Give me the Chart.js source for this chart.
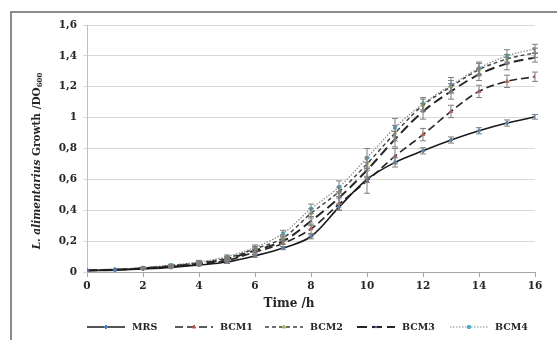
<!DOCTYPE html>
<html>
<head>
<meta charset="utf-8">
<script src="https://cdn.jsdelivr.net/npm/chart.js@4.4.1/dist/chart.umd.min.js"></script>
<style>
  html, body { margin: 0; padding: 0; background: #fff; }
  #wrap { width: 557px; height: 340px; position: relative; }
</style>
</head>
<body>
<div id="wrap"><canvas id="growthChart" width="557" height="340"></canvas></div>
<script>
// time points (h)
const hours = [0, 1, 2, 3, 4, 5, 6, 7, 8, 9, 10, 11, 12, 13, 14, 15, 16];
const xTicks = [0, 2, 4, 6, 8, 10, 12, 14, 16];
const yTicks = [0, 0.2, 0.4, 0.6, 0.8, 1, 1.2, 1.4, 1.6];

const seriesNames = ["MRS", "BCM1", "BCM2", "BCM3", "BCM4"];

// OD600 means
const mrs  = [0.01, 0.012, 0.02, 0.03, 0.045, 0.065, 0.105, 0.155, 0.23, 0.42, 0.60, 0.71, 0.785, 0.855, 0.915, 0.965, 1.005];
const bcm1 = [0.01, 0.014, 0.022, 0.035, 0.05, 0.075, 0.13, 0.185, 0.28, 0.44, 0.59, 0.75, 0.89, 1.04, 1.17, 1.235, 1.265];
const bcm2 = [0.01, 0.016, 0.025, 0.04, 0.06, 0.09, 0.15, 0.22, 0.38, 0.52, 0.70, 0.90, 1.08, 1.20, 1.31, 1.38, 1.42];
const bcm3 = [0.01, 0.015, 0.024, 0.038, 0.055, 0.085, 0.14, 0.20, 0.33, 0.48, 0.66, 0.86, 1.04, 1.17, 1.28, 1.35, 1.39];
const bcm4 = [0.01, 0.017, 0.028, 0.045, 0.065, 0.10, 0.16, 0.25, 0.41, 0.55, 0.74, 0.935, 1.09, 1.21, 1.32, 1.40, 1.445];

// standard deviations (error bars)
const mrsErr  = [0, 0, 0.005, 0.005, 0.005, 0.01, 0.01, 0.01, 0.015, 0.02, 0.02, 0.03, 0.02, 0.02, 0.02, 0.02, 0.015];
const bcm1Err = [0, 0, 0.005, 0.005, 0.01, 0.01, 0.015, 0.02, 0.03, 0.04, 0.08, 0.05, 0.04, 0.04, 0.04, 0.04, 0.03];
const bcm2Err = [0, 0, 0.005, 0.005, 0.01, 0.01, 0.015, 0.02, 0.03, 0.03, 0.04, 0.05, 0.04, 0.04, 0.04, 0.03, 0.03];
const bcm3Err = [0, 0, 0.005, 0.005, 0.01, 0.01, 0.015, 0.02, 0.03, 0.04, 0.05, 0.05, 0.05, 0.05, 0.04, 0.04, 0.03];
const bcm4Err = [0, 0, 0.005, 0.005, 0.01, 0.01, 0.015, 0.02, 0.03, 0.04, 0.06, 0.06, 0.04, 0.05, 0.04, 0.04, 0.03];

const SERIF = "'DejaVu Serif', 'Liberation Serif', serif";

const styles = [
  { line: "#1a1a1a", dash: [],         width: 1.6, marker: "#4a7ebb", shape: "rectRot" },
  { line: "#262626", dash: [8, 4],     width: 1.6, marker: "#c0504d", shape: "triangle" },
  { line: "#404040", dash: [4, 3],     width: 1.4, marker: "#9bbb59", shape: "triangle" },
  { line: "#262626", dash: [10, 5],    width: 2,   marker: "#8064a2", shape: "crossRot" },
  { line: "#8a8a8a", dash: [1.5, 1.5], width: 1.2, marker: "#4bacc6", shape: "rect" }
];

const values = [mrs, bcm1, bcm2, bcm3, bcm4];
const errors = [mrsErr, bcm1Err, bcm2Err, bcm3Err, bcm4Err];

const datasets = seriesNames.map((name, i) => ({
  label: name,
  data: hours.map((h, j) => ({ x: h, y: values[i][j] })),
  errs: errors[i],
  borderColor: styles[i].line,
  borderDash: styles[i].dash,
  borderWidth: styles[i].width,
  backgroundColor: styles[i].marker,
  pointBackgroundColor: styles[i].marker,
  pointBorderColor: styles[i].marker,
  pointStyle: styles[i].shape,
  pointRadius: 2,
  pointBorderWidth: 1,
  tension: 0.35,
  fill: false
}));

// frame, error bars, titles, legend
const decorations = {
  id: "decorations",
  beforeDraw(chart) {
    const ctx = chart.ctx;
    ctx.save();
    ctx.fillStyle = "#fff";
    ctx.fillRect(0, 0, chart.width, chart.height);
    ctx.strokeStyle = "#8c8c8c";
    ctx.lineWidth = 2;
    ctx.beginPath();
    ctx.moveTo(11, chart.height);
    ctx.lineTo(11, 12);
    ctx.lineTo(chart.width, 12);
    ctx.stroke();
    ctx.restore();
  },
  afterDatasetsDraw(chart) {
    const ctx = chart.ctx;
    const xs = chart.scales.x, ys = chart.scales.y;
    ctx.save();
    ctx.strokeStyle = "#7f7f7f";
    ctx.lineWidth = 1;
    chart.data.datasets.forEach(ds => {
      ds.data.forEach((p, j) => {
        const e = ds.errs[j];
        if (!e) return;
        const x = xs.getPixelForValue(p.x);
        const y1 = ys.getPixelForValue(p.y + e);
        const y2 = ys.getPixelForValue(p.y - e);
        ctx.beginPath();
        ctx.moveTo(x, y1); ctx.lineTo(x, y2);
        ctx.moveTo(x - 3, y1); ctx.lineTo(x + 3, y1);
        ctx.moveTo(x - 3, y2); ctx.lineTo(x + 3, y2);
        ctx.stroke();
      });
    });
    ctx.restore();
  },
  afterDraw(chart) {
    const ctx = chart.ctx;
    ctx.save();
    ctx.fillStyle = "#262626";
    ctx.textBaseline = "middle";

    // x title
    ctx.font = "bold 12px " + SERIF;
    ctx.textAlign = "center";
    ctx.fillText("Time /h", 289, 304);

    // y title (rotated, italic species name + subscript)
    ctx.translate(37, 161);
    ctx.rotate(-Math.PI / 2);
    const parts = [
      { t: "L. alimentarius", f: "italic bold 10.5px " + SERIF, dy: 0 },
      { t: " Growth /DO", f: "bold 10.5px " + SERIF, dy: 0 },
      { t: "600", f: "bold 7px " + SERIF, dy: 3 }
    ];
    let total = 0;
    parts.forEach(p => { ctx.font = p.f; p.w = ctx.measureText(p.t).width; total += p.w; });
    let px = -total / 2;
    ctx.textAlign = "left";
    parts.forEach(p => { ctx.font = p.f; ctx.fillText(p.t, px, p.dy); px += p.w; });
    ctx.setTransform(1, 0, 0, 1, 0, 0);

    // legend
    const legendX = [87, 175, 265, 357, 450];
    const ly = 327;
    chart.data.datasets.forEach((ds, i) => {
      const x0 = legendX[i], len = 38;
      ctx.strokeStyle = ds.borderColor;
      ctx.lineWidth = ds.borderWidth;
      ctx.setLineDash(ds.borderDash);
      ctx.beginPath();
      ctx.moveTo(x0, ly); ctx.lineTo(x0 + len, ly);
      ctx.stroke();
      ctx.setLineDash([]);
      ctx.fillStyle = ds.pointBackgroundColor;
      ctx.strokeStyle = ds.pointBorderColor;
      ctx.lineWidth = 1;
      Chart.helpers.drawPoint(ctx, {
        pointStyle: ds.pointStyle, radius: 2, borderWidth: 1, rotation: 0
      }, x0 + len / 2, ly);
      ctx.fillStyle = "#262626";
      ctx.font = "bold 9.5px " + SERIF;
      ctx.textAlign = "left";
      ctx.fillText(ds.label, x0 + len + 7, ly + 1);
    });
    ctx.restore();
  }
};

new Chart(document.getElementById("growthChart"), {
  type: "line",
  data: { datasets },
  plugins: [decorations],
  options: {
    responsive: false,
    animation: false,
    layout: { padding: { left: 0, top: 25, right: 22, bottom: 0 } },
    plugins: {
      legend: { display: false },
      tooltip: { enabled: false }
    },
    scales: {
      x: {
        type: "linear",
        min: 0, max: 16,
        afterFit: s => { s.height = 68; },
        afterBuildTicks: s => { s.ticks = xTicks.map(v => ({ value: v })); },
        grid: { drawOnChartArea: false, color: "#a6a6a6", tickLength: 5 },
        border: { color: "#a6a6a6" },
        ticks: {
          padding: 3,
          color: "#262626",
          font: { family: SERIF, size: 10.5, weight: "bold" }
        }
      },
      y: {
        min: 0, max: 1.6,
        afterFit: s => { s.width = 87; },
        afterBuildTicks: s => { s.ticks = yTicks.map(v => ({ value: v })); },
        grid: { color: "#d9d9d9", tickLength: 4, lineWidth: 1 },
        border: { color: "#bfbfbf" },
        ticks: {
          padding: 6,
          color: "#262626",
          font: { family: SERIF, size: 10.5, weight: "bold" },
          callback: v => String(Math.round(v * 10) / 10).replace(".", ",")
        }
      }
    }
  }
});
</script>
</body>
</html>
